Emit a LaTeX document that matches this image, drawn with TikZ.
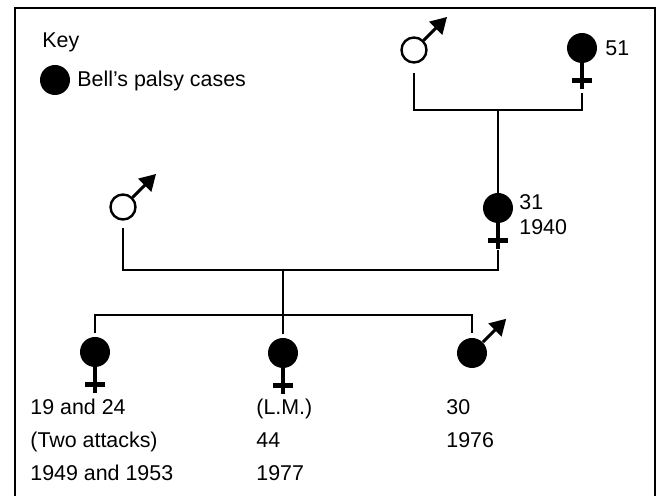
\documentclass[tikz,border=0pt]{standalone}
\usepackage{fontspec}
\setmainfont{Liberation Sans}
\usetikzlibrary{arrows.meta, positioning}
\tikzstyle{affected} = [circle, fill=black, draw=none, minimum size=15pt, inner sep=0pt]
\tikzstyle{unaffected} = [circle, fill=white, draw=black, line width=1.2pt, minimum size=12.5pt, inner sep=0pt]
\tikzstyle{malesign} = [append after command={(\tikzlastnode.north east) edge[draw, line width=1.5pt, -{Triangle[length=8pt,width=9pt]}] ++(45:16.5pt)}]
\tikzstyle{femalesign} = [append after command={(\tikzlastnode.south) edge[draw, line width=1.9pt] ++(0pt,-13pt) ([shift={(-4.9pt,-8.75pt)}]\tikzlastnode.south) edge[draw, line width=2.6pt] ++(9.8pt,0pt)}]
\tikzstyle{link} = [line width=1pt]
\tikzstyle{frame} = [line width=1.1pt]
\tikzstyle{txt} = [anchor=base west, inner sep=0pt, font=\fontsize{10.7}{12.8}\selectfont]

\begin{document}
\begin{tikzpicture}[x=0.5pt, y=-0.5pt]
	\useasboundingbox (0,0) rectangle (661,496);
	\draw [frame] (15,496) -- (15,8) -- (655,8) -- (655,496);
	% key
	\node (keydot) [affected] at (55,80) {};
	\node (key) [txt] at (42,48) {Key};
	\node (keytext) [txt] at (77,87) {Bell's palsy cases};
	% grandparents
	\node (gf) [unaffected, malesign] at (414,50) {};
	\node (gm) [affected, femalesign] at (582,48) {};
	\node (gmage) [txt] at (605,56) {51};
	\coordinate (m1) at (498,110);
	% parents
	\node (lf) [unaffected, malesign] at (123,207) {};
	\node (mo) [affected, femalesign] at (498,208) {};
	\node (moage) [txt] at (519,210) {31};
	\node (moyear) [txt] at (519,235) {1940};
	\coordinate (m2) at (283,270);
	\coordinate (sib) at (283,315);
	% children
	\node (c1) [affected, femalesign] at (95,352) {};
	\node (c2) [affected, femalesign] at (283,353) {};
	\node (c3) [affected, malesign] at (472,353) {};
	\node (c1age) [txt] at (30,415) {19 and 24};
	\node (c1note) [txt] at (30,448) {(Two attacks)};
	\node (c1year) [txt] at (30,481) {1949 and 1953};
	\node (c2name) [txt] at (256,415) {(L.M.)};
	\node (c2age) [txt] at (256,448) {44};
	\node (c2year) [txt] at (256,481) {1977};
	\node (c3age) [txt] at (446,415) {30};
	\node (c3year) [txt] at (446,448) {1976};
	% lines of descent
	\draw [link] ([yshift=-4.75pt]gf.south) |- (m1) -| ([yshift=-15pt]gm.south);
	\draw [link] (m1) -- (mo.north);
	\draw [link] ([yshift=-3.75pt]lf.south) |- (m2) -| ([yshift=-13.5pt]mo.south);
	\draw [link] (m2) -- (sib);
	\draw [link] ([yshift=2pt]c1.north) |- (sib) -| ([yshift=2.25pt]c3.north);
	\draw [link] (sib) -- ([yshift=2pt]c2.north);
\end{tikzpicture}
\end{document}
